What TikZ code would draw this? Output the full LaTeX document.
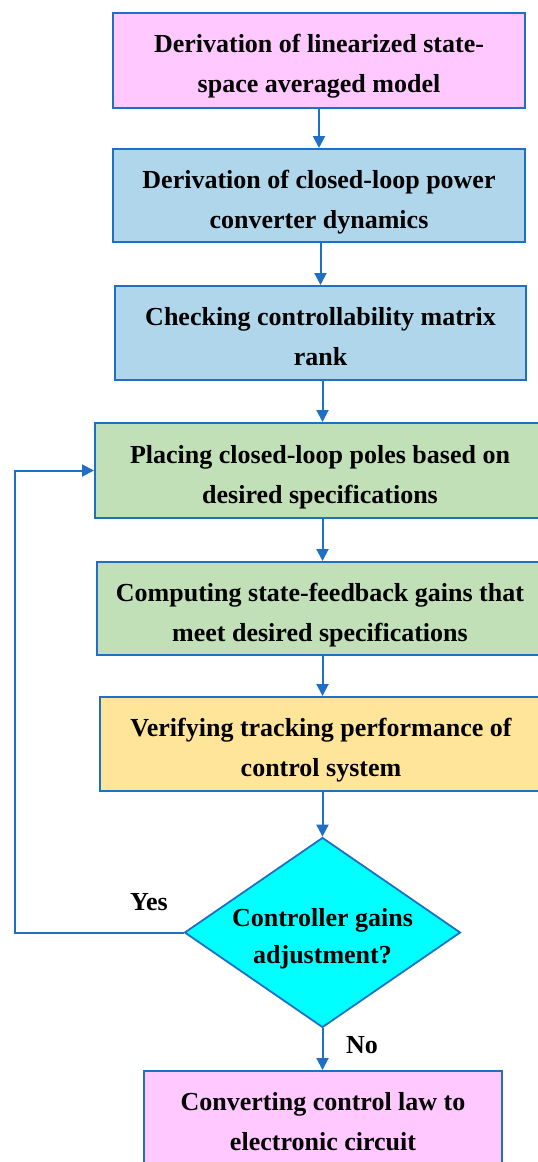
\documentclass[tikz,border=0pt]{standalone}
\usepackage{fontspec}
\setmainfont{Liberation Serif}
\usetikzlibrary{shapes.geometric,arrows.meta}
\definecolor{edgeblue}{RGB}{31,112,196}
\definecolor{pinkc}{RGB}{255,200,255}
\definecolor{bluec}{RGB}{176,214,235}
\definecolor{greenc}{RGB}{193,224,183}
\definecolor{yellowc}{RGB}{255,229,153}
\definecolor{cyanc}{RGB}{0,255,255}
\newcommand{\mytopstrut}{\rule{0pt}{32pt}}
\newcommand{\mybotstrut}{\rule[-7pt]{0pt}{7pt}}
\tikzset{
  stepbox/.style={draw=edgeblue, line width=2pt, rectangle, align=center, inner sep=0pt,
    font=\fontsize{26}{40}\selectfont\bfseries},
  decision/.style={draw=edgeblue, line width=1.8pt, diamond, inner sep=0pt, fill=cyanc},
  dtext/.style={align=center, inner sep=0pt, font=\fontsize{26}{37}\selectfont\bfseries},
  arr/.style={draw=edgeblue, line width=2pt, -{Triangle[width=12pt,length=12pt]}},
  lbl/.style={font=\fontsize{26}{28}\selectfont\bfseries, inner sep=0pt}
}
\begin{document}
\begin{tikzpicture}[x=1pt,y=-1pt]
\useasboundingbox (0,0) rectangle (538,1162);
\node[stepbox, fill=pinkc, minimum width=412pt, minimum height=95pt] (b1) at (319,60)
  {\mytopstrut Derivation of linearized state-\\space averaged model\mybotstrut};
\node[stepbox, fill=bluec, minimum width=412pt, minimum height=93pt] (b2) at (319,195.5)
  {\mytopstrut Derivation of closed-loop power\\converter dynamics\mybotstrut};
\node[stepbox, fill=bluec, minimum width=411pt, minimum height=94pt] (b3) at (320.5,333)
  {\mytopstrut Checking controllability matrix\\rank\mybotstrut};
\node[stepbox, fill=greenc, minimum width=450pt, minimum height=95pt] (b4) at (320,470.5)
  {\mytopstrut Placing closed-loop poles based on\\desired specifications\mybotstrut};
\node[stepbox, fill=greenc, minimum width=446pt, minimum height=93pt] (b5) at (320,608.5)
  {\mytopstrut Computing state-feedback gains that\\meet desired specifications\mybotstrut};
\node[stepbox, fill=yellowc, minimum width=442pt, minimum height=94pt] (b6) at (321,744)
  {\mytopstrut Verifying tracking performance of\\control system\mybotstrut};
\node[decision, minimum width=276pt, minimum height=190pt] (dia) at (322.5,932.5) {};
\node[dtext] (diatext) at (dia) {\mytopstrut Controller gains\\adjustment?\mybotstrut};
\node[stepbox, fill=pinkc, minimum width=358pt, minimum height=94pt] (b7) at (323,1118)
  {\mytopstrut Converting control law to\\electronic circuit\mybotstrut};
\coordinate (lp) at (15,932.5);
\draw[arr] (b1.south) -- (b1.south |- b2.north);
\draw[arr] (b2.south -| b3) -- (b3.north);
\draw[arr] (b3.south -| dia) -- (b4.north -| dia);
\draw[arr] (b4.south -| dia) -- (b5.north -| dia);
\draw[arr] (b5.south -| dia) -- (b6.north -| dia);
\draw[arr] (b6.south -| dia) -- (dia.north);
\draw[arr] (dia.south) -- (b7.north -| dia);
\draw[arr] (dia.west) -- (lp) |- (b4.west);
\node[lbl] (yes) at (149,902) {Yes};
\node[lbl] (no) at (362,1045) {No};
\end{tikzpicture}
\end{document}
